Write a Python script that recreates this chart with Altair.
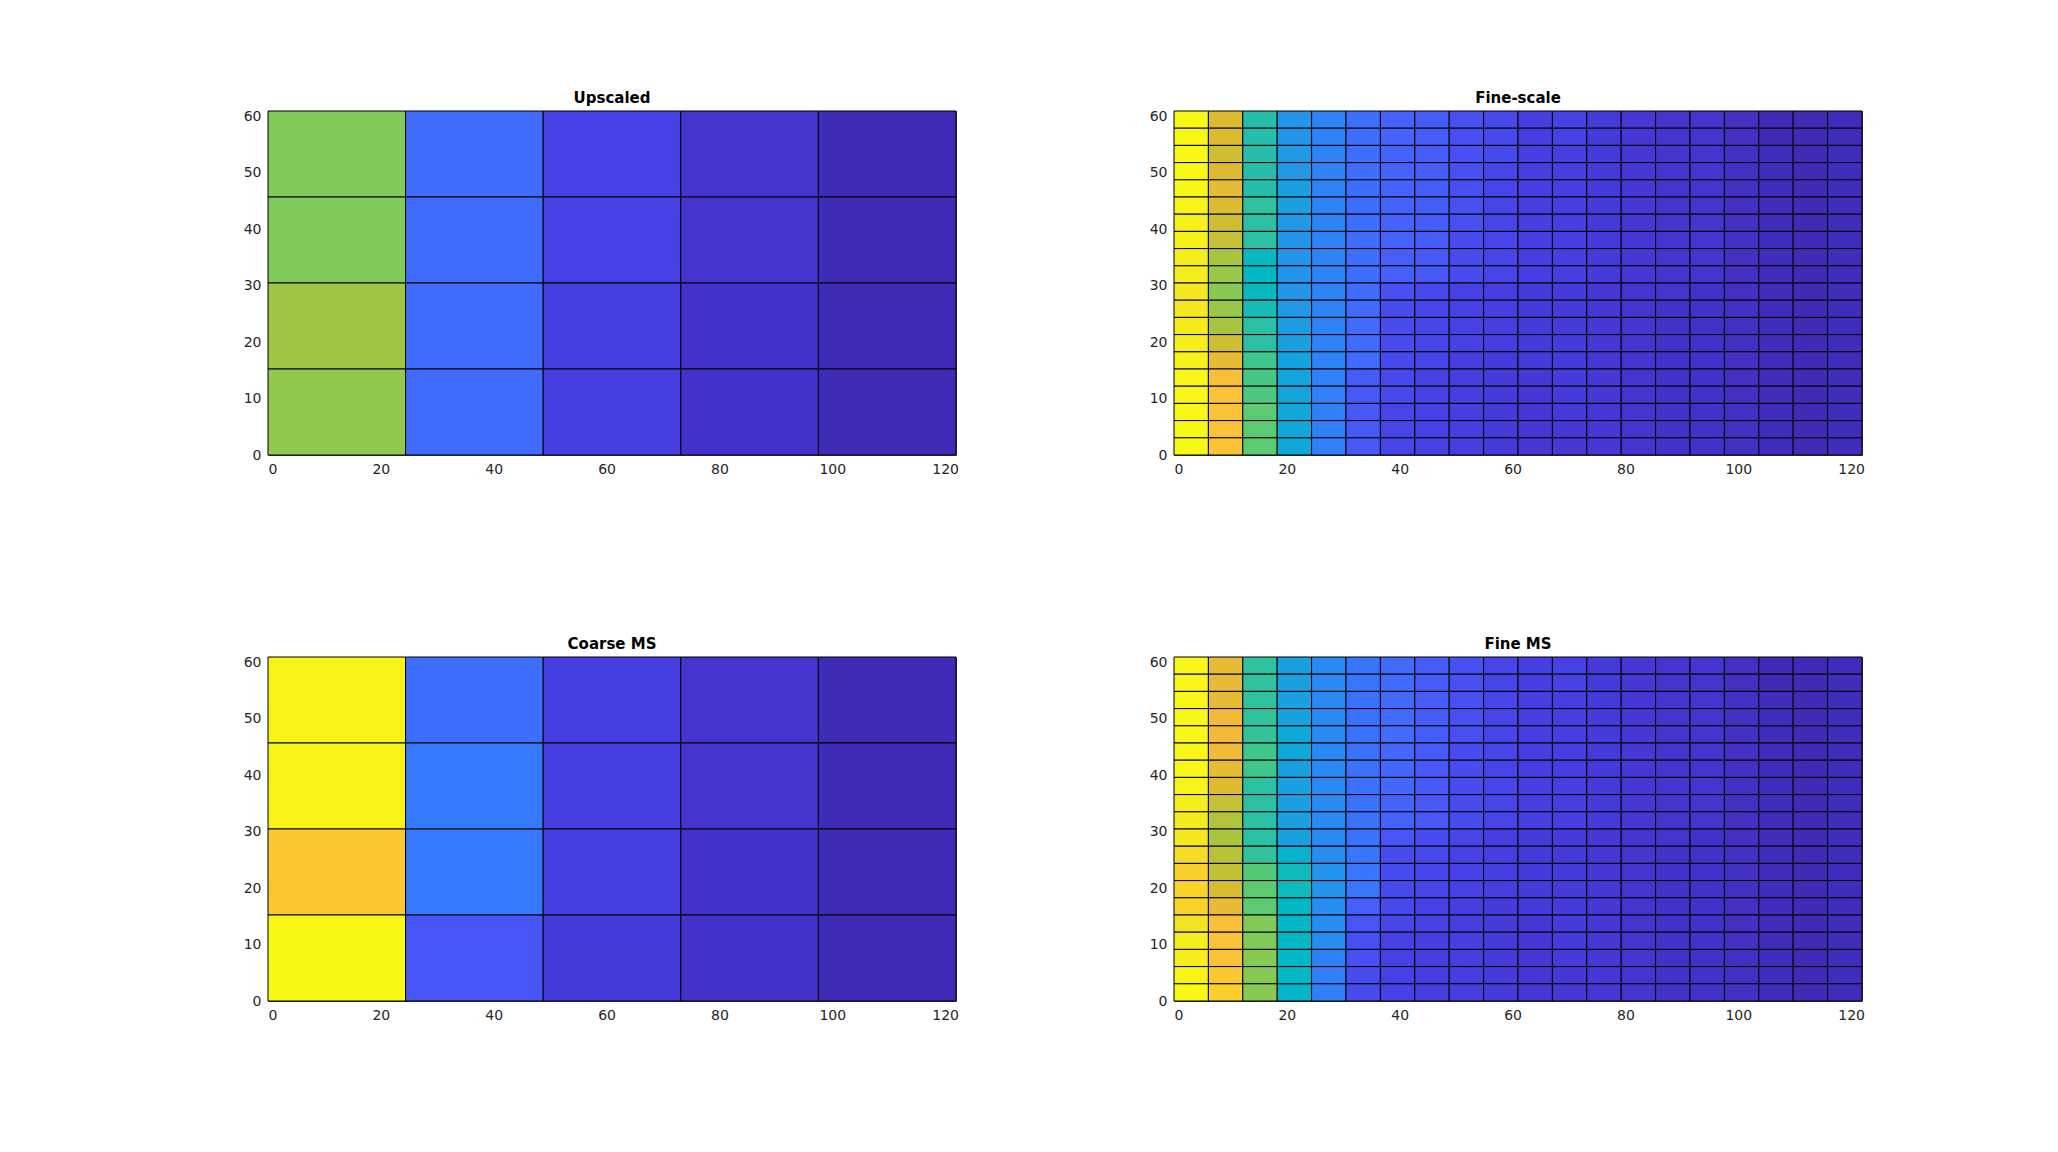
import altair as alt
import pandas as pd

# Domain of the reservoir (metres): 400 ft x 200 ft
X_MAX = 121.92
Y_MAX = 60.96

X_TICKS = [0, 20, 40, 60, 80, 100, 120]
Y_TICKS = [0, 10, 20, 30, 40, 50, 60]

TITLES = ["Upscaled", "Fine-scale", "Coarse MS", "Fine MS"]

# Parula-like colour map anchors (normalised value -> colour)
CMAP_STOPS = [0.00, 0.05, 0.10, 0.15, 0.20, 0.25, 0.30, 0.35, 0.40, 0.45, 0.50,
              0.55, 0.60, 0.65, 0.70, 0.75, 0.80, 0.85, 0.90, 0.95, 1.00]
CMAP_COLORS = ["#3e26a8", "#4332ca", "#4741e5", "#4854f6", "#4467fd", "#3579fd",
               "#298af3", "#2199e6", "#0fa8d8", "#00b7c6", "#26beaa", "#3ec68c",
               "#64cb69", "#91c94e", "#b9c237", "#dcbb30", "#f6ba3c", "#fcc832",
               "#f5dc26", "#f5ee1c", "#f9fb15"]

# Coarse panels: 5 columns, each listed top row -> bottom row (4 rows)
UPSCALED_COLS = [
    [0.63, 0.63, 0.67, 0.65],
    [0.21, 0.21, 0.21, 0.21],
    [0.10, 0.10, 0.09, 0.09],
    [0.06, 0.06, 0.05, 0.05],
    [0.02, 0.02, 0.02, 0.02],
]
COARSE_MS_COLS = [
    [0.97, 0.97, 0.85, 0.99],
    [0.22, 0.25, 0.25, 0.15],
    [0.09, 0.09, 0.09, 0.08],
    [0.06, 0.06, 0.05, 0.05],
    [0.02, 0.02, 0.02, 0.02],
]

# Fine panels: 20 columns, each listed top row -> bottom row (20 rows)
FINE_SCALE_COLS = [
    [.99, .99, .98, .99, .99, .97, .96, .96, .95, .95, .93, .93, .94, .95, .96, .98, .98, .98, .99, .99],
    [.75, .75, .73, .75, .77, .75, .73, .72, .68, .66, .64, .66, .68, .73, .77, .82, .83, .83, .83, .83],
    [.50, .50, .50, .50, .50, .52, .51, .51, .46, .45, .46, .48, .51, .51, .55, .56, .57, .59, .59, .59],
    [.34, .34, .35, .35, .37, .37, .35, .34, .34, .33, .34, .35, .36, .37, .38, .39, .39, .40, .40, .40],
    [.28, .28, .28, .28, .28, .28, .28, .28, .28, .28, .28, .28, .28, .28, .28, .27, .27, .27, .27, .27],
    [.22, .22, .22, .22, .22, .22, .22, .22, .22, .22, .21, .21, .21, .21, .21, .17, .16, .16, .16, .16],
    [.19, .19, .19, .19, .19, .19, .19, .19, .18, .18, .14, .13, .13, .13, .12, .12, .12, .11, .11, .11],
    [.17, .17, .17, .17, .17, .17, .17, .17, .16, .16, .12, .11, .11, .11, .11, .10, .10, .10, .10, .10],
    [.14, .14, .14, .14, .14, .14, .14, .13, .13, .13, .10, .10, .10, .10, .09, .09, .09, .09, .09, .09],
    [.12, .12, .12, .11, .11, .11, .11, .11, .11, .11, .09, .09, .09, .09, .08, .08, .08, .08, .08, .08],
    [.09, .09, .09, .09, .09, .09, .09, .09, .09, .09, .08, .08, .08, .08, .08, .07, .07, .07, .07, .07],
    [.10, .10, .09, .09, .09, .09, .09, .09, .09, .09, .08, .08, .08, .08, .08, .08, .08, .08, .07, .07],
    [.08, .08, .08, .08, .08, .08, .08, .08, .08, .08, .07, .07, .07, .07, .07, .07, .07, .07, .07, .07],
    [.07, .07, .07, .07, .07, .07, .07, .07, .07, .07, .06, .06, .06, .06, .06, .06, .06, .06, .06, .06],
    [.06, .06, .06, .06, .06, .06, .06, .06, .06, .06, .06, .05, .05, .05, .05, .05, .05, .05, .05, .05],
    [.06, .06, .06, .06, .06, .06, .06, .06, .06, .06, .05, .05, .05, .05, .05, .05, .05, .05, .05, .05],
    [.04, .04, .04, .04, .04, .04, .04, .04, .04, .04, .04, .04, .04, .04, .04, .04, .04, .04, .04, .04],
    [.02, .02, .03, .03, .03, .03, .03, .03, .03, .03, .03, .03, .03, .03, .03, .03, .03, .03, .03, .03],
    [.02, .02, .02, .02, .02, .02, .02, .02, .02, .02, .02, .02, .02, .02, .02, .02, .02, .02, .02, .02],
    [.03, .03, .03, .03, .03, .03, .03, .03, .03, .03, .03, .03, .03, .03, .03, .03, .03, .03, .03, .03],
]
FINE_MS_COLS = [
    [.98, .98, .98, .98, .98, .98, .98, .97, .95, .94, .93, .90, .87, .88, .88, .92, .95, .95, .97, .99],
    [.77, .77, .77, .79, .79, .79, .77, .75, .72, .69, .68, .70, .71, .74, .77, .82, .83, .83, .85, .87],
    [.52, .52, .52, .52, .53, .55, .55, .51, .51, .51, .51, .52, .58, .59, .59, .63, .63, .64, .64, .64],
    [.37, .37, .37, .38, .40, .40, .37, .37, .37, .37, .37, .43, .47, .47, .45, .45, .45, .45, .45, .44],
    [.30, .30, .30, .30, .30, .30, .30, .30, .30, .30, .30, .31, .33, .33, .31, .31, .31, .27, .27, .27],
    [.24, .24, .23, .23, .23, .23, .23, .23, .23, .23, .23, .24, .24, .24, .18, .15, .14, .14, .13, .13],
    [.21, .21, .21, .21, .21, .20, .20, .20, .19, .19, .15, .13, .13, .12, .12, .11, .10, .10, .10, .10],
    [.17, .17, .17, .17, .17, .17, .16, .16, .16, .16, .13, .12, .11, .11, .10, .10, .09, .09, .09, .09],
    [.14, .14, .14, .14, .14, .13, .13, .13, .13, .13, .11, .10, .10, .10, .09, .09, .09, .09, .09, .09],
    [.11, .11, .11, .11, .11, .11, .11, .11, .11, .11, .09, .09, .09, .09, .08, .08, .08, .08, .08, .08],
    [.09, .09, .09, .09, .09, .09, .09, .09, .09, .09, .08, .08, .08, .08, .08, .07, .07, .07, .07, .07],
    [.10, .10, .09, .09, .09, .09, .09, .09, .09, .09, .08, .08, .08, .08, .08, .08, .08, .08, .07, .07],
    [.08, .08, .08, .08, .08, .08, .08, .08, .08, .08, .07, .07, .07, .07, .07, .07, .07, .07, .07, .07],
    [.07, .07, .07, .07, .07, .07, .07, .07, .07, .07, .06, .06, .06, .06, .06, .06, .06, .06, .06, .06],
    [.06, .06, .06, .06, .06, .06, .06, .06, .06, .06, .06, .05, .05, .05, .05, .05, .05, .05, .05, .05],
    [.06, .06, .06, .06, .06, .06, .06, .06, .06, .06, .05, .05, .05, .05, .05, .05, .05, .05, .05, .05],
    [.04, .04, .04, .04, .04, .04, .04, .04, .04, .04, .04, .04, .04, .04, .04, .04, .04, .04, .04, .04],
    [.02, .02, .03, .03, .03, .03, .03, .03, .03, .03, .03, .03, .03, .03, .03, .03, .03, .03, .03, .03],
    [.02, .02, .02, .02, .02, .02, .02, .02, .02, .02, .02, .02, .02, .02, .02, .02, .02, .02, .02, .02],
    [.03, .03, .03, .03, .03, .03, .03, .03, .03, .03, .03, .03, .03, .03, .03, .03, .03, .03, .03, .03],
]

FONT = "DejaVu Sans"
PANEL_W = 688
PANEL_H = 344


def grid_frame(cols):
    nx = len(cols)
    ny = len(cols[0])
    dx = X_MAX / nx
    dy = Y_MAX / ny
    rows = []
    for i, col in enumerate(cols):
        for r, v in enumerate(col):
            rows.append({
                "x0": i * dx, "x1": (i + 1) * dx,
                "y0": (ny - r - 1) * dy, "y1": (ny - r) * dy,
                "v": v,
            })
    return pd.DataFrame(rows)


color_scale = alt.Scale(domain=CMAP_STOPS, range=CMAP_COLORS, interpolate="rgb")


def panel(cols, title):
    df = grid_frame(cols)
    axis_common = dict(ticks=False, domain=False, grid=False, labelPadding=7,
                       labelFontSize=14, labelFont=FONT, labelColor="#262626", format="d")
    return alt.Chart(df).mark_rect(stroke="black", strokeWidth=1).encode(
        x=alt.X("x0:Q", title=None,
                scale=alt.Scale(domain=[0, X_MAX], nice=False, zero=False),
                axis=alt.Axis(values=X_TICKS, **axis_common)),
        x2="x1:Q",
        y=alt.Y("y0:Q", title=None,
                scale=alt.Scale(domain=[0, Y_MAX], nice=False, zero=False),
                axis=alt.Axis(values=Y_TICKS, **axis_common)),
        y2="y1:Q",
        color=alt.Color("v:Q", scale=color_scale, legend=None),
    ).properties(
        width=PANEL_W, height=PANEL_H,
        title=alt.TitleParams(title, font=FONT, fontSize=15, fontWeight="bold",
                              color="black", offset=3),
    )


chart = alt.concat(
    panel(UPSCALED_COLS, TITLES[0]),
    panel(FINE_SCALE_COLS, TITLES[1]),
    panel(COARSE_MS_COLS, TITLES[2]),
    panel(FINE_MS_COLS, TITLES[3]),
    columns=2,
    spacing={"row": 202, "column": 218},
    bounds="flush",
).properties(
    padding={"left": 242, "top": 90, "right": 10, "bottom": 10},
    background="white",
).configure_view(stroke="#404040", strokeWidth=1)

chart.save("out.html", embed_options={"renderer": "svg", "actions": False})
